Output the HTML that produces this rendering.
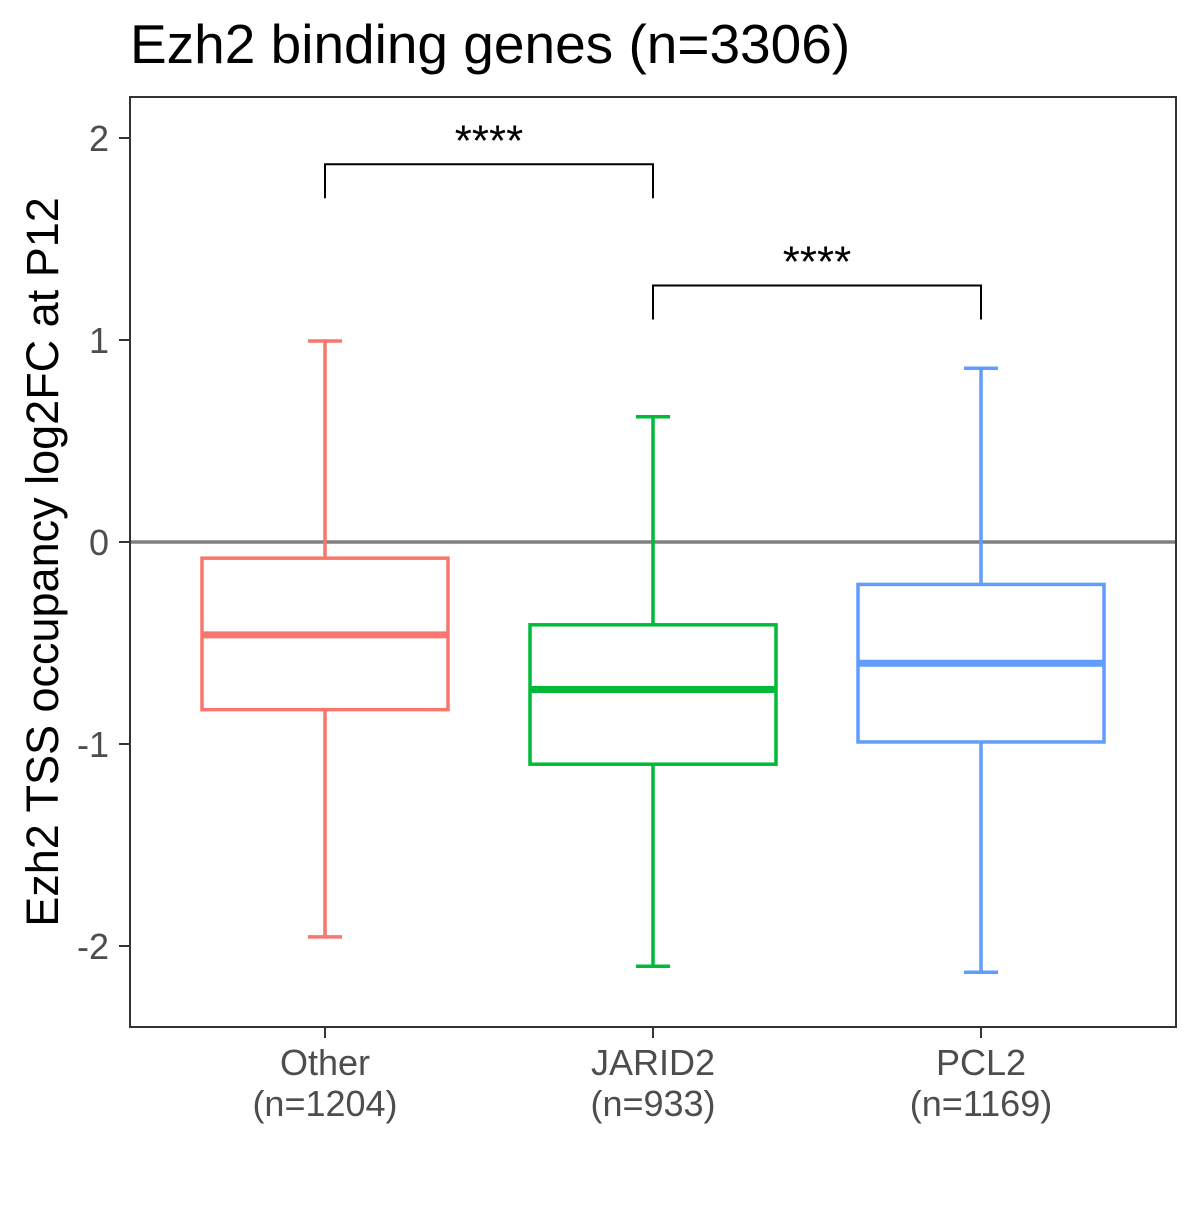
<!DOCTYPE html>
<html><head><meta charset="utf-8"><style>
html,body{margin:0;padding:0;background:#fff;}
svg text{font-family:"Liberation Sans",sans-serif;}
</style></head><body>
<svg id="chart" width="1200" height="1200" xmlns="http://www.w3.org/2000/svg">
<rect width="1200" height="1200" fill="#fff"/>
<text x="130" y="63" font-size="55" fill="#000">Ezh2 binding genes (n=3306)</text>
<text transform="translate(58,562) rotate(-90)" text-anchor="middle" font-size="45" fill="#000">Ezh2 TSS occupancy log2FC at P12</text>
<g id="plot"></g>
</svg>
<script>
const categories = ["Other","JARID2","PCL2"];
const counts = ["(n=1204)","(n=933)","(n=1169)"];
const whiskerHigh = [0.995, 0.62, 0.86];
const q3 = [-0.08, -0.41, -0.21];
const median = [-0.46, -0.73, -0.60];
const q1 = [-0.83, -1.10, -0.99];
const whiskerLow = [-1.955, -2.10, -2.13];
const yTicks = [-2,-1,0,1,2];
const comparisons = [[0,1,1.87,"****"],[1,2,1.27,"****"]];
const colors = ["#F8766D","#00BA38","#619CFF"];

const NS="http://www.w3.org/2000/svg";
const g=document.getElementById('plot');
const y=v=>542-202*v;
const x=i=>325+328*i;
function mk(tag,attrs,parent){const e=document.createElementNS(NS,tag);for(const k in attrs)e.setAttribute(k,attrs[k]);(parent||g).appendChild(e);return e;}

const zero=mk('line',{x1:130,x2:1176,y1:y(0),y2:y(0),stroke:'#808080','stroke-width':3.5});



yTicks.forEach(t=>{
  const tk=mk('line',{x1:119,x2:130,y1:y(t),y2:y(t),stroke:'#333','stroke-width':2});
  
  
  const tl=mk('text',{x:109,y:y(t)+13,'text-anchor':'end','font-size':36,fill:'#4d4d4d'});
  tl.textContent=t;
  
  
});

categories.forEach((c,i)=>{
  const cx=x(i),col=colors[i],hw=123,cw=17;
  const grp=mk('g',{stroke:col,'stroke-width':3.5,fill:'none'});
  
  
  mk('line',{x1:cx,x2:cx,y1:y(whiskerHigh[i]),y2:y(q3[i])},grp);
  mk('line',{x1:cx,x2:cx,y1:y(q1[i]),y2:y(whiskerLow[i])},grp);
  mk('line',{x1:cx-cw,x2:cx+cw,y1:y(whiskerHigh[i]),y2:y(whiskerHigh[i])},grp);
  mk('line',{x1:cx-cw,x2:cx+cw,y1:y(whiskerLow[i]),y2:y(whiskerLow[i])},grp);
  mk('rect',{x:cx-hw,y:y(q3[i]),width:2*hw,height:y(q1[i])-y(q3[i]),fill:'#fff'},grp);
  mk('line',{x1:cx-hw,x2:cx+hw,y1:y(median[i]),y2:y(median[i]),'stroke-width':7},grp);
  const tk=mk('line',{x1:cx,x2:cx,y1:1027,y2:1038,stroke:'#333','stroke-width':2});
  
  
  const l1=mk('text',{x:cx,y:1075,'text-anchor':'middle','font-size':36,fill:'#4d4d4d'});
  l1.textContent=c;
  
  
  const l2=mk('text',{x:cx,y:1116,'text-anchor':'middle','font-size':36,fill:'#4d4d4d'});
  l2.textContent=counts[i];
  
  
});

comparisons.forEach(([a,b,v,lab])=>{
  const by=y(v),x1=x(a),x2=x(b);
  const br=mk('path',{d:`M${x1},${by+34}V${by}H${x2}V${by+34}`,stroke:'#000','stroke-width':2,fill:'none'});
  
  
  const t=mk('text',{x:(x1+x2)/2,y:by-9,'text-anchor':'middle','font-size':44,fill:'#000'});
  t.textContent=lab;
  
  
});

const frame=mk('rect',{x:130,y:97,width:1046,height:930,fill:'none',stroke:'#333','stroke-width':2});


</script>
</body></html>
